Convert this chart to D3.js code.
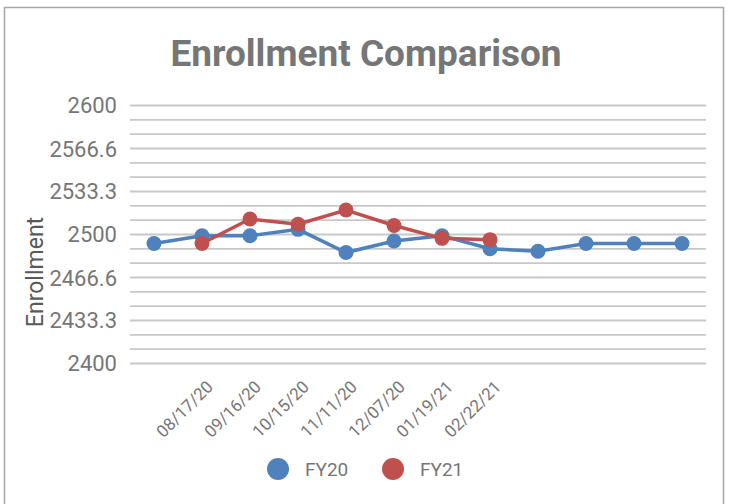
<!DOCTYPE html>
<html>
<head>
<meta charset="utf-8">
<script src="https://cdn.jsdelivr.net/npm/d3@7"></script>
<style>
  body { margin: 0; background: #fff; }
  svg { display: block; font-family: Roboto, "Noto Sans", sans-serif; }
</style>
</head>
<body>
<svg id="root"></svg>
<script>
// chart values
const dates = ["", "08/17/20", "09/16/20", "10/15/20", "11/11/20", "12/07/20", "01/19/21", "02/22/21", "", "", "", ""];
const fy20 = [2493, 2499, 2499, 2504, 2486, 2495, 2499, 2489, 2487, 2493, 2493, 2493];
const fy21 = [null, 2493, 2512, 2508, 2519, 2507, 2497, 2496];
const yTicks = [2400, 2433.3, 2466.6, 2500, 2533.3, 2566.6, 2600];
const seriesNames = ["FY20", "FY21"];

const width = 730;
const height = 504;
const colors = { FY20: "#4f81bd", FY21: "#c0504d" };

const svg = d3.select("#root")
  .attr("width", width)
  .attr("height", height);

// frame
svg.append("rect")
  .attr("x", 4.5).attr("y", 7.5)
  .attr("width", 719).attr("height", 520)
  .attr("fill", "none")
  .attr("stroke", "#a6a6a6")
  .attr("stroke-width", 1.5);

const x = d3.scaleBand()
  .domain(d3.range(dates.length))
  .range([130, 706]);

const y = d3.scaleLinear()
  .domain([2400, 2600])
  .range([363.5, 105.5]);

// gridlines: majors plus two minors in between
const gridVals = d3.range(0, 19).map(i => 2400 + i * 200 / 18);
svg.append("g")
  .selectAll("line")
  .data(gridVals)
  .enter()
  .append("line")
  .attr("x1", 130).attr("x2", 706)
  .attr("y1", d => y(d)).attr("y2", d => y(d))
  .attr("stroke", "#c8c8c8")
  .attr("stroke-width", 1.8);

// y tick labels
svg.append("g")
  .selectAll("text")
  .data(yTicks)
  .enter()
  .append("text")
  .attr("x", 117)
  .attr("y", d => y(d))
  .attr("dy", "0.36em")
  .attr("text-anchor", "end")
  .attr("font-size", 22)
  .attr("fill", "#767676")
  .text(d => d);

// y axis title
svg.append("text")
  .attr("transform", "translate(43, 272) rotate(-90)")
  .attr("text-anchor", "middle")
  .attr("font-size", 23)
  .attr("fill", "#595959")
  .text("Enrollment");

// x tick labels, rotated
svg.append("g")
  .selectAll("text")
  .data(dates.map((d, i) => ({ d, i })).filter(o => o.d !== ""))
  .enter()
  .append("text")
  .attr("transform", o => `translate(${x(o.i) + x.bandwidth() / 2 + 12}, 388) rotate(-45)`)
  .attr("text-anchor", "end")
  .attr("font-size", 17)
  .attr("fill", "#767676")
  .text(o => o.d);

// title
svg.append("text")
  .attr("x", 366)
  .attr("y", 66)
  .attr("text-anchor", "middle")
  .attr("font-size", 37)
  .attr("font-weight", "bold")
  .attr("fill", "#767676")
  .text("Enrollment Comparison");

const line = d3.line()
  .defined(d => d != null)
  .x((d, i) => x(i) + x.bandwidth() / 2)
  .y(d => y(d));

const drawSeries = (vals, name) => {
  const g = svg.append("g");
  g.append("path")
    .attr("d", line(vals))
    .attr("fill", "none")
    .attr("stroke", colors[name])
    .attr("stroke-width", 3.5);
  g.selectAll("circle")
    .data(vals.map((v, i) => ({ v, i })).filter(o => o.v != null))
    .enter()
    .append("circle")
    .attr("cx", o => x(o.i) + x.bandwidth() / 2)
    .attr("cy", o => y(o.v))
    .attr("r", 7.5)
    .attr("fill", colors[name]);
};
drawSeries(fy20, "FY20");
drawSeries(fy21, "FY21");

// legend
const legend = svg.append("g")
  .selectAll("g")
  .data(seriesNames)
  .enter()
  .append("g")
  .attr("transform", (d, i) => `translate(${278 + i * 115}, 469)`);
legend.append("circle")
  .attr("r", 11)
  .attr("fill", d => colors[d]);
legend.append("text")
  .attr("x", 27)
  .attr("dy", "0.36em")
  .attr("font-size", 19)
  .attr("fill", "#767676")
  .text(d => d);
</script>
</body>
</html>
